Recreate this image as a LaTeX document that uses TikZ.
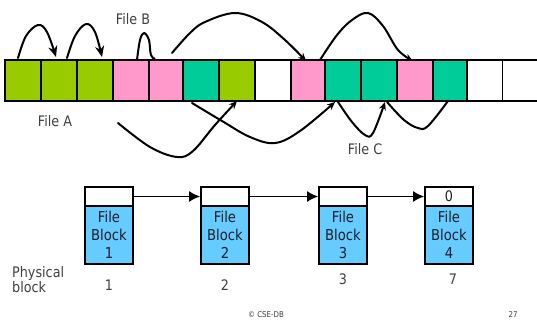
\documentclass[tikz,border=0pt]{standalone}
\usepackage{fontspec}
\setmainfont{DejaVu Sans}[FakeStretch=0.88]
\usetikzlibrary{arrows.meta,calc}
\definecolor{fgreen}{RGB}{153,204,0}
\definecolor{fpink}{RGB}{255,153,204}
\definecolor{fteal}{RGB}{0,204,153}
\definecolor{fblue}{RGB}{102,204,255}
\definecolor{labelgray}{RGB}{64,64,64}
\definecolor{boxtext}{RGB}{30,30,40}
\begin{document}
\begin{tikzpicture}[x=1pt,y=-1pt,
  cell/.style={draw=black, line width=2.2pt, minimum height=41pt, inner sep=0pt, outer sep=0pt},
  link/.style={line width=2pt, line cap=round, line join=round},
  bigtip/.style={-{Stealth[length=11pt,width=9pt]}},
  midtip/.style={-{Stealth[length=8pt,width=7pt]}},
  smalltip/.style={-{Stealth[length=5pt,width=5pt]}},
  lbl/.style={font=\fontsize{14.5}{15}\selectfont, text=labelgray, inner sep=0pt},
  hdr/.style={draw=black, line width=1.8pt, fill=white, minimum width=48pt, minimum height=19pt, inner sep=0pt,
    font=\fontsize{14.5}{15}\selectfont, text=boxtext},
  body/.style={draw=black, line width=1.8pt, fill=fblue, minimum width=48pt, minimum height=58pt, inner sep=0pt,
    align=center, font=\fontsize{15}{18}\selectfont, text=boxtext},
  num/.style={font=\fontsize{14.5}{15}\selectfont, text=labelgray, inner sep=0pt},
  chain/.style={line width=1.5pt, -{Latex[length=11pt,width=11pt]}},
  foot/.style={font=\fontsize{8}{9}\selectfont, text=labelgray, inner sep=0pt}
]
\useasboundingbox (0,0) rectangle (537,321);

% disk strip: one node per block
\foreach \i/\x/\w/\c in {1/23/36/fgreen, 2/59/36/fgreen, 3/95/36/fgreen, 4/131/36/fpink,
    5/166/34/fpink, 6/201/36/fteal, 7/237/36/fgreen, 8/273/36/white, 9/308/34/fpink,
    10/343/36/fteal, 11/379/36/fteal, 12/415/36/fpink, 13/450/34/fteal, 14/485/36/white}
  \node[cell, fill=\c, minimum width=\w pt] (c\i) at (\x,80.5) {};
\node[cell, draw=none, fill=white, minimum width=36pt] (c15) at (521,80.5) {};
\draw[line width=2.2pt] (c14.north east) -- (c15.north east);
\draw[line width=2.2pt] (c14.south east) -- (c15.south east);

% file labels
\node[lbl] at (55,121) {File A};
\node[lbl] at (133,19) {File B};
\node[lbl] at (365,149) {File C};

% File A links
\draw[link,bigtip] plot[smooth,tension=0.6] coordinates
  {([shift={(-5,-2)}]c1.north) (26,36) (38,25) (47,32) ([shift={(-3,-3)}]c2.north)};
\draw[link,bigtip] plot[smooth,tension=0.6] coordinates
  {([shift={(8,-2)}]c2.north) (75,36) (86,24) (95,32) ([shift={(7,-3)}]c3.north)};
\draw[link,midtip] plot[smooth,tension=0.6] coordinates
  {(118,123) (150,147) (177,157) (193,151) (215,125) (c7.south)};

% File B links
\draw[link,smalltip] plot[smooth,tension=0.6] coordinates
  {([shift={(6,0)}]c4.north) (140,40) (144,33) (149,40) (151,55) ([shift={(8,1)}]c5.north west)};
\draw[link,midtip] plot[smooth,tension=0.6] coordinates
  {([shift={(6,-7)}]c5.north) (190,33) (205,22) (235,13) (262,22) (285,40) ([shift={(-2,1)}]c9.north)};
\draw[link,midtip] plot[smooth,tension=0.6] coordinates
  {([shift={(12,0)}]c9.north) (337,35) (352,20) (368,13) (383,26) (398,50) ([shift={(-2,1)}]c12.north)};

% File C links
\draw[link,midtip] plot[smooth,tension=0.6] coordinates
  {([shift={(-9,2)}]c6.south) (222,121) (250,137) (275,143) (300,131) ([shift={(-8,1)}]c10.south)};
\draw[link,midtip] plot[smooth,tension=0.6] coordinates
  {([shift={(-5,1)}]c10.south) (352,122) (365,135) (373,133) ([shift={(6,1)}]c11.south)};
\draw[link] plot[smooth,tension=0.6] coordinates
  {([shift={(8,1)}]c11.south) (404,120) (418,128) (428,126) ([shift={(-2,0)}]c13.south)};

% linked allocation blocks
\foreach \i/\x/\n in {1/109/1, 2/225/2, 3/343/3, 4/449/4} {
  \node[hdr] (h\i) at (\x,196.5) {};
  \node[body] (b\i) at (\x,235) {File\\Block\\\n};
}
\node[hdr, draw=none, fill=none] at (h4) {0};
\draw[chain] (h1.east) -- (h2.west);
\draw[chain] (h2.east) -- (h3.west);
\draw[chain] (h3.east) -- (h4.west);

% physical block numbers
\node[num, anchor=west, align=left] at (12,279.5) {Physical\\block};
\node[num] at (109,285) {1};
\node[num] at (225,285) {2};
\node[num] at (343,279) {3};
\node[num] at (453,279) {7};

% footer
\node[foot] at (266,315) {© CSE-DB};
\node[foot] at (513,315) {27};
\end{tikzpicture}
\end{document}
